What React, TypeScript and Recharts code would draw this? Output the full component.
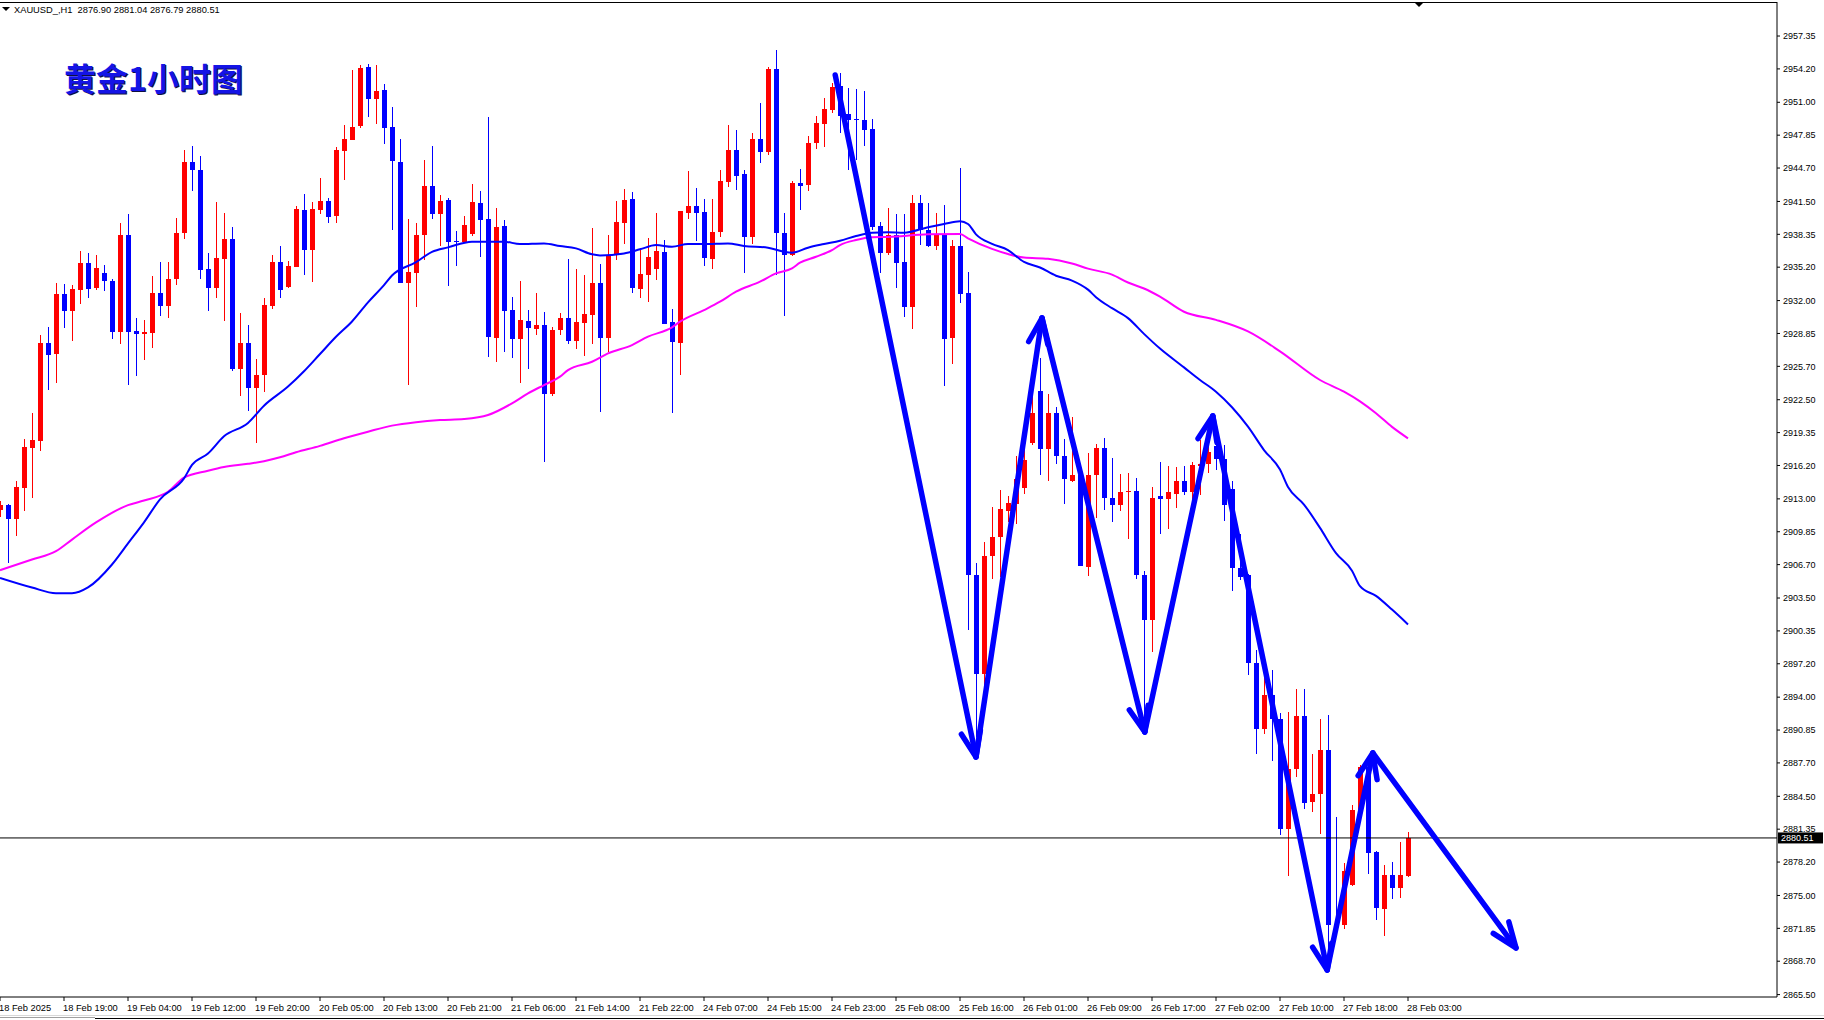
import React from 'react'
import { ComposedChart, XAxis, YAxis, Bar, Line, ReferenceLine } from 'recharts'

const W = 1824
const H = 1020
const AXIS_FONT = '"Liberation Sans", Arial, sans-serif'

// XAUUSD H1 bars, 18 Feb 11:00 .. 28 Feb 03:00 (one value per bar)
const opens = [
  2911.9, 2912.4, 2911.04, 2914.05, 2917.9, 2918.56, 2927.91, 2926.88, 2932.67, 2931.02,
  2933.04, 2935.61, 2933.22, 2934.69, 2933.85, 2928.97, 2938.28, 2929.08, 2928.79, 2928.9,
  2932.71, 2931.46, 2934.1, 2938.43, 2945.29, 2944.56, 2935.02, 2933.22, 2936.01, 2937.88,
  2925.49, 2927.98, 2923.65, 2924.86, 2931.46, 2935.68, 2933.3, 2935.24, 2940.67, 2936.89,
  2940.7, 2941.58, 2940.15, 2946.35, 2947.42, 2948.7, 2954.38, 2951.27, 2952.18, 2948.63,
  2945.29, 2933.66, 2934.69, 2938.28, 2942.94, 2940.34, 2941.66, 2937.7, 2937.64, 2938.41,
  2941.35, 2939.81, 2928.44, 2939.14, 2931.09, 2928.35, 2930.04, 2929.3, 2929.66, 2923.08,
  2929.18, 2930.33, 2928.16, 2929.88, 2930.65, 2933.68, 2928.44, 2936.36, 2939.46, 2941.73,
  2933.14, 2934.45, 2935.05, 2936.65, 2929.94, 2927.96, 2940.42, 2941.09, 2940.48, 2935.98,
  2938.6, 2943.36, 2946.42, 2944.12, 2938.12, 2947.48, 2946.26, 2954.19, 2938.5, 2936.33,
  2943.26, 2943.1, 2947.09, 2948.95, 2950.29, 2952.56, 2949.87, 2949.39, 2949.3, 2948.47,
  2939.14, 2936.59, 2938.28, 2935.7, 2931.38, 2941.38, 2938.73, 2937.25, 2938.28, 2928.43,
  2937.25, 2932.75, 2905.71, 2896.25, 2907.49, 2909.31, 2911.88, 2912.53, 2914.04, 2918.36,
  2923.36, 2917.79, 2921.24, 2917.15, 2914.72, 2915.29, 2906.47, 2915.29, 2917.91, 2913.06,
  2912.45, 2913.66, 2913.77, 2905.75, 2901.42, 2913.28, 2912.98, 2913.5, 2914.7, 2913.69,
  2916.11, 2916.37, 2918.05, 2916.86, 2913.95, 2906.42, 2905.75, 2897.32, 2890.91, 2894.19,
  2891.95, 2881.33, 2887.1, 2892.21, 2883.94, 2884.76, 2888.89, 2872.26, 2872.19, 2876.03,
  2883.19, 2887.29, 2879.16, 2873.68, 2876.93, 2875.73, 2876.9,
]
const highs = [
  2912.8, 2912.5, 2914.67, 2918.7, 2921.2, 2928.68, 2929.45, 2933.66, 2933.55, 2933.48,
  2936.71, 2936.6, 2936.41, 2935.42, 2934.03, 2939.42, 2940.26, 2930.36, 2930.18, 2934.4,
  2935.68, 2935.68, 2939.9, 2946.39, 2946.79, 2945.84, 2936.52, 2941.44, 2940.37, 2939.09,
  2930.8, 2929.7, 2926.4, 2932.2, 2936.41, 2937.26, 2935.75, 2941.11, 2942.21, 2941.44,
  2943.75, 2941.8, 2946.68, 2948.81, 2954.09, 2954.57, 2954.64, 2954.57, 2952.73, 2950.53,
  2947.53, 2939.82, 2939.42, 2945.47, 2946.79, 2942.1, 2941.8, 2938.69, 2940.1, 2943.17,
  2942.5, 2949.59, 2940.87, 2939.72, 2932.37, 2933.87, 2931.09, 2932.72, 2930.87, 2929.46,
  2930.77, 2935.98, 2935.05, 2934.45, 2938.95, 2935.5, 2938.28, 2941.54, 2942.69, 2942.4,
  2937.03, 2937.99, 2940.42, 2937.8, 2931.19, 2940.58, 2944.41, 2942.78, 2941.73, 2941.73,
  2944.51, 2948.82, 2948.34, 2944.51, 2948.05, 2950.93, 2954.41, 2956.01, 2940.42, 2943.45,
  2944.6, 2947.77, 2949.68, 2951.41, 2952.84, 2953.8, 2952.36, 2952.27, 2952.08, 2949.39,
  2939.53, 2940.87, 2940.29, 2940.28, 2942.14, 2942.14, 2941.38, 2940.43, 2941.19, 2937.78,
  2944.71, 2934.75, 2906.85, 2908.82, 2912.23, 2913.82, 2913.29, 2917.15, 2918.96, 2925.78,
  2926.54, 2923.05, 2921.81, 2918.74, 2920.86, 2915.75, 2917.37, 2918.28, 2918.85, 2916.92,
  2915.37, 2915.44, 2914.99, 2906.12, 2914.1, 2916.52, 2916.15, 2916.04, 2916.15, 2916.52,
  2918.61, 2918.31, 2918.24, 2918.13, 2914.7, 2909.66, 2905.82, 2898.51, 2896.13, 2896.61,
  2892.51, 2892.59, 2894.82, 2894.75, 2888.6, 2891.95, 2892.25, 2882.52, 2878.08, 2883.67,
  2887.48, 2887.48, 2879.27, 2877.9, 2878.16, 2880.09, 2881.04,
]
const lows = [
  2911.3, 2906.89, 2909.46, 2911.85, 2913.13, 2917.6, 2923.4, 2924.13, 2929.34, 2928.16,
  2931.72, 2932.2, 2933.04, 2932.93, 2928.35, 2927.8, 2923.95, 2924.79, 2926.33, 2927.43,
  2930.51, 2930.36, 2933.48, 2937.88, 2942.46, 2934.03, 2931.02, 2932.27, 2930.07, 2925.23,
  2922.85, 2921.38, 2918.37, 2923.21, 2931.17, 2932.2, 2933.22, 2935.24, 2934.47, 2933.77,
  2940.26, 2939.46, 2939.46, 2943.57, 2947.34, 2948.52, 2949.62, 2948.96, 2947.05, 2938.72,
  2933.66, 2923.95, 2931.39, 2935.86, 2939.82, 2937.26, 2933.37, 2935.31, 2937.54, 2938.18,
  2936.2, 2926.62, 2926.14, 2927.1, 2926.53, 2924.13, 2925.47, 2928.67, 2916.56, 2922.89,
  2928.7, 2927.8, 2927.39, 2926.72, 2927.87, 2921.35, 2927.1, 2935.92, 2937.42, 2932.75,
  2932.28, 2931.89, 2933.97, 2929.75, 2921.26, 2924.9, 2939.81, 2937.7, 2935.31, 2935.05,
  2938.12, 2942.91, 2942.59, 2934.67, 2937.42, 2945.21, 2945.94, 2934.45, 2930.55, 2936.27,
  2940.68, 2942.53, 2946.55, 2946.71, 2950.0, 2948.02, 2944.51, 2945.47, 2946.81, 2938.76,
  2934.67, 2936.4, 2933.23, 2930.44, 2929.3, 2937.33, 2937.14, 2936.84, 2923.81, 2925.93,
  2931.76, 2900.41, 2890.19, 2893.6, 2905.33, 2905.52, 2910.75, 2910.63, 2913.47, 2918.21,
  2915.25, 2914.72, 2916.31, 2912.53, 2914.61, 2906.55, 2905.64, 2911.2, 2911.96, 2910.82,
  2911.85, 2909.18, 2905.3, 2890.65, 2898.36, 2909.62, 2910.11, 2912.16, 2913.35, 2912.09,
  2913.35, 2915.44, 2915.74, 2910.89, 2904.22, 2905.19, 2896.16, 2888.6, 2890.46, 2887.92,
  2880.77, 2876.85, 2886.36, 2883.26, 2883.0, 2880.88, 2868.46, 2871.44, 2871.82, 2875.92,
  2883.0, 2877.04, 2872.64, 2871.15, 2874.69, 2874.8, 2876.79,
]
const closes = [
  2912.4, 2911.04, 2914.12, 2917.97, 2918.63, 2927.91, 2926.81, 2932.67, 2931.02, 2933.08,
  2935.61, 2933.11, 2935.13, 2933.85, 2928.97, 2938.28, 2928.97, 2928.79, 2928.97, 2932.71,
  2931.46, 2934.03, 2938.5, 2945.29, 2944.56, 2934.95, 2933.22, 2936.05, 2937.88, 2925.49,
  2927.98, 2923.65, 2924.86, 2931.57, 2935.68, 2933.04, 2935.31, 2940.81, 2936.89, 2940.81,
  2941.55, 2940.01, 2946.43, 2947.53, 2948.63, 2954.27, 2951.27, 2952.07, 2948.52, 2945.33,
  2933.66, 2934.73, 2938.28, 2942.94, 2940.34, 2941.55, 2937.62, 2937.64, 2939.24, 2941.44,
  2939.72, 2928.54, 2939.05, 2931.03, 2928.35, 2930.14, 2929.4, 2929.66, 2923.08, 2929.18,
  2930.33, 2928.16, 2929.94, 2930.71, 2933.68, 2928.44, 2936.36, 2939.53, 2941.63, 2933.23,
  2934.54, 2936.17, 2936.75, 2929.75, 2928.06, 2940.58, 2941.09, 2940.42, 2936.11, 2938.6,
  2943.45, 2946.42, 2943.96, 2938.12, 2947.48, 2946.26, 2954.19, 2938.5, 2936.33, 2943.26,
  2943.01, 2947.09, 2949.01, 2950.35, 2952.46, 2949.71, 2949.3, 2949.27, 2948.34, 2939.08,
  2936.59, 2938.28, 2935.63, 2931.38, 2941.38, 2938.73, 2937.25, 2938.28, 2928.36, 2937.25,
  2932.67, 2905.71, 2896.25, 2907.49, 2909.38, 2912.04, 2912.64, 2914.88, 2916.69, 2921.24,
  2917.79, 2921.24, 2917.15, 2914.88, 2915.29, 2906.55, 2915.29, 2917.91, 2913.06, 2912.45,
  2913.66, 2913.78, 2905.75, 2901.42, 2913.13, 2912.98, 2913.65, 2914.7, 2913.69, 2916.26,
  2916.37, 2917.45, 2916.78, 2912.38, 2906.42, 2905.56, 2897.25, 2890.91, 2894.19, 2891.95,
  2881.33, 2887.1, 2892.21, 2883.82, 2884.76, 2888.89, 2872.19, 2872.19, 2877.34, 2883.19,
  2887.29, 2879.09, 2873.79, 2876.93, 2875.73, 2876.93, 2880.51,
]

// moving averages: [bar, price]
const fastMa = [
  [0, 2905.43], [4, 2904.51], [7, 2903.96], [9, 2903.96], [11, 2904.51], [14, 2906.71],
  [16, 2908.73], [18, 2910.75], [20, 2912.95], [23, 2914.96], [24, 2916.25], [26, 2917.35],
  [28, 2919.0], [31, 2920.28], [33, 2921.93], [36, 2923.76], [38, 2925.23], [40, 2926.88],
  [42, 2928.53], [44, 2930.0], [46, 2931.83], [48, 2933.48], [49, 2934.4], [52, 2935.68],
  [54, 2936.67], [56, 2937.1], [59, 2937.64], [63, 2937.64], [65, 2937.42], [68, 2937.48],
  [70, 2937.23], [72, 2937.0], [74, 2936.43], [75, 2936.33], [78, 2936.52], [80, 2936.91],
  [82, 2937.32], [84, 2937.16], [86, 2937.42], [88, 2937.42], [91, 2937.48], [93, 2937.23],
  [96, 2937.07], [98, 2936.68], [99, 2936.59], [101, 2937.07], [103, 2937.42], [105, 2937.74],
  [107, 2938.18], [109, 2938.5], [111, 2938.55], [113, 2938.5], [116, 2939.03], [118, 2939.34],
  [120, 2939.6], [121, 2939.34], [122, 2938.35], [124, 2937.44], [126, 2936.84], [128, 2935.7],
  [130, 2935.17], [132, 2934.38], [134, 2933.92], [136, 2933.05], [137, 2932.33], [139, 2931.27],
  [141, 2930.32], [143, 2928.81], [145, 2927.4], [148, 2925.6], [150, 2924.39], [152, 2923.27],
  [154, 2921.78], [156, 2919.92], [158, 2917.68], [160, 2915.81], [161, 2914.14], [163, 2912.46],
  [165, 2910.22], [167, 2907.8], [169, 2906.12], [170, 2904.63], [172, 2903.7], [174, 2902.39],
  [176, 2900.97],
]
const slowMa = [
  [0, 2906.16], [4, 2907.19], [7, 2907.99], [9, 2909.1], [12, 2910.74], [16, 2912.4],
  [18, 2912.84], [21, 2913.68], [23, 2915.04], [26, 2915.7], [28, 2916.06], [31, 2916.36],
  [33, 2916.61], [35, 2916.98], [37, 2917.46], [40, 2918.08], [43, 2918.81], [46, 2919.44],
  [49, 2920.02], [52, 2920.35], [55, 2920.55], [58, 2920.65], [61, 2921.03], [64, 2922.15],
  [66, 2923.11], [68, 2923.91], [70, 2924.71], [71, 2925.34], [74, 2926.14], [76, 2926.94],
  [79, 2927.74], [81, 2928.54], [84, 2929.43], [85, 2929.98], [88, 2931.09], [90, 2931.89],
  [92, 2932.85], [95, 2933.81], [97, 2934.61], [99, 2935.09], [100, 2935.63], [102, 2936.2],
  [104, 2936.84], [105, 2937.32], [107, 2937.8], [109, 2938.06], [111, 2938.1], [116, 2938.35],
  [120, 2938.39], [121, 2937.97], [124, 2936.95], [126, 2936.46], [128, 2936.12], [131, 2936.0],
  [134, 2935.55], [136, 2935.06], [139, 2934.49], [141, 2933.73], [143, 2933.16], [145, 2932.38],
  [148, 2930.93], [152, 2930.15], [156, 2929.04], [160, 2927.14], [165, 2924.39], [168, 2923.27],
  [170, 2922.34], [172, 2921.2], [174, 2919.9], [176, 2918.8],
]

// time scale labels, one every 8 bars
const timeLabels = [
  '18 Feb 2025', '18 Feb 19:00', '19 Feb 04:00', '19 Feb 12:00', '19 Feb 20:00', '20 Feb 05:00',
  '20 Feb 13:00', '20 Feb 21:00', '21 Feb 06:00', '21 Feb 14:00', '21 Feb 22:00', '24 Feb 07:00',
  '24 Feb 15:00', '24 Feb 23:00', '25 Feb 08:00', '25 Feb 16:00', '26 Feb 01:00', '26 Feb 09:00',
  '26 Feb 17:00', '27 Feb 02:00', '27 Feb 10:00', '27 Feb 18:00', '28 Feb 03:00',
]
const priceTicks = [
  2957.35, 2954.2, 2951.0, 2947.85, 2944.7, 2941.5, 2938.35, 2935.2, 2932.0, 2928.85,
  2925.7, 2922.5, 2919.35, 2916.2, 2913.0, 2909.85, 2906.7, 2903.5, 2900.35, 2897.2,
  2894.0, 2890.85, 2887.7, 2884.5, 2881.35, 2878.2, 2875.0, 2871.85, 2868.7, 2865.5,
]
const lastPrice = 2880.51

// hand drawn zig-zag: [bar, price] vertices, an arrow head at the end of each leg
const arrowPath = [
  [104.4, 2953.61], [122.0, 2888.27], [130.25, 2930.33], [143.1, 2890.66],
  [151.6, 2920.94], [165.9, 2867.86], [171.6, 2888.65], [189.5, 2869.97],
]

const rows: any[] = opens.map((o, k) => ({
  k, o, h: highs[k], l: lows[k], c: closes[k], range: [lows[k], highs[k]],
}))
fastMa.forEach(([k, v]) => { rows[k].fast = v })
slowMa.forEach(([k, v]) => { rows[k].slow = v })

function Candle(props: any) {
  const { x, y, width, height, payload } = props
  if (x == null || y == null) return null
  const top = Math.min(y, y + height)
  const span = Math.abs(height)
  const { o, h, l, c } = payload
  const py = (v: number) => top + (h === l ? 0 : ((h - v) / (h - l)) * span)
  const cx = Math.round(x + width / 2)
  const color = c >= o ? '#ff0000' : '#0000ff'
  const b1 = py(Math.max(o, c))
  const b2 = py(Math.min(o, c))
  return (
    <g shapeRendering="crispEdges">
      <rect x={cx} y={top} width={1} height={Math.max(span, 1)} fill={color} />
      <rect x={cx - 2} y={b1} width={5} height={Math.max(b2 - b1, 1)} fill={color} />
    </g>
  )
}

function ArrowLeg(props: any) {
  const { x1, y1, x2, y2 } = props
  const a = Math.atan2(y2 - y1, x2 - x1)
  const len = 27
  const spread = (21 * Math.PI) / 180
  const w1 = `${x2 - len * Math.cos(a - spread)},${y2 - len * Math.sin(a - spread)}`
  const w2 = `${x2 - len * Math.cos(a + spread)},${y2 - len * Math.sin(a + spread)}`
  return (
    <g stroke="#0000ff" strokeWidth={5.5} strokeLinecap="round" strokeLinejoin="round" fill="none">
      <line x1={x1} y1={y1} x2={x2} y2={y2} />
      <polyline points={`${w1} ${x2},${y2} ${w2}`} />
    </g>
  )
}

function PriceTag(props: any) {
  const { viewBox } = props
  if (!viewBox) return null
  const x = viewBox.x + viewBox.width + 1
  const y = viewBox.y
  return (
    <g>
      <rect x={x} y={y - 5.5} width={45} height={11} fill="#000" />
      <text x={x + 3} y={y + 3.5} fill="#fff" fontSize={9} fontFamily={AXIS_FONT}>
        {lastPrice.toFixed(2)}
      </text>
    </g>
  )
}

function TimeTick(props: any) {
  const { x, y, payload } = props
  const label = timeLabels[Math.round(payload.value / 8)]
  return (
    <text x={x - 1} y={y + 8} fontSize={9.3} fontFamily={AXIS_FONT} fill="#000" textAnchor="start">
      {label}
    </text>
  )
}

export default function App() {
  const timeTicks = timeLabels.map((_, i) => i * 8)
  return (
    <div style={{ position: 'absolute', left: 0, top: 0, width: W, height: H, background: '#fff', overflow: 'hidden' }}>
      <ComposedChart width={W} height={H} data={rows} margin={{ top: 2, right: 0, bottom: 0, left: 0 }}>
        <XAxis
          type="number"
          dataKey="k"
          domain={[0, 222.125]}
          allowDataOverflow
          ticks={timeTicks}
          interval={0}
          height={23}
          axisLine={{ stroke: '#000' }}
          tickLine={{ stroke: '#000' }}
          tickSize={4}
          tick={<TimeTick />}
        />
        <YAxis
          orientation="right"
          domain={[2865.27, 2960.61]}
          allowDataOverflow
          ticks={priceTicks}
          interval={0}
          width={47}
          axisLine={{ stroke: '#000' }}
          tickLine={{ stroke: '#000' }}
          tickSize={3}
          tickMargin={3}
          tickFormatter={(v: number) => v.toFixed(2)}
          tick={{ fontSize: 9, fontFamily: AXIS_FONT, fill: '#000' }}
        />
        <Bar dataKey="range" barSize={5} shape={<Candle />} isAnimationActive={false} />
        <Line
          dataKey="slow"
          type="monotone"
          stroke="#ff00ff"
          strokeWidth={2}
          dot={false}
          connectNulls
          isAnimationActive={false}
        />
        <Line
          dataKey="fast"
          type="monotone"
          stroke="#0000ff"
          strokeWidth={2}
          dot={false}
          connectNulls
          isAnimationActive={false}
        />
        <ReferenceLine y={lastPrice} stroke="#000" strokeWidth={1} label={<PriceTag />} />
        {arrowPath.slice(1).map((p, i) => (
          <ReferenceLine
            key={i}
            segment={[{ x: arrowPath[i][0], y: arrowPath[i][1] }, { x: p[0], y: p[1] }]}
            shape={<ArrowLeg />}
            ifOverflow="visible"
          />
        ))}
      </ComposedChart>

      <svg width={W} height={H} style={{ position: 'absolute', left: 0, top: 0, pointerEvents: 'none' }}>
        <line x1={0} y1={2.5} x2={1777} y2={2.5} stroke="#000" />
        <polygon points="2,7 10,7 6,11" fill="#000" />
        <polygon points="1415,3 1423,3 1419,7" fill="#000" />
        <line x1={0} y1={1015.5} x2={W} y2={1015.5} stroke="#d8d8d8" />
        <line x1={0} y1={1017.5} x2={95} y2={1017.5} stroke="#a0a0a0" />
        <line x1={95} y1={1018.5} x2={W} y2={1018.5} stroke="#000" />
      </svg>

      <div
        style={{
          position: 'absolute', left: 14, top: 5, fontSize: 9.3, lineHeight: '11px',
          fontFamily: AXIS_FONT, color: '#000', whiteSpace: 'pre',
        }}
      >
        {'XAUUSD_,H1  2876.90 2881.04 2876.79 2880.51'}
      </div>

      <div
        style={{
          position: 'absolute', left: 64, top: 61, fontSize: 32, lineHeight: '32px', fontWeight: 700,
          fontFamily: '"Noto Sans CJK SC", sans-serif', color: '#1414e6',
          textShadow: '1px 1px 0 #101040', whiteSpace: 'pre',
        }}
      >
        黄金1小时图
      </div>
    </div>
  )
}
